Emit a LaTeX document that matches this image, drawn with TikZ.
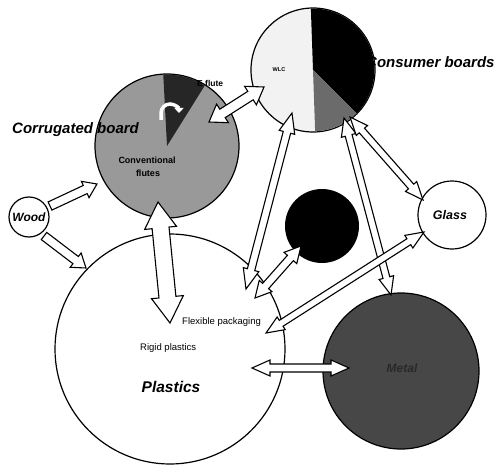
\documentclass[tikz,border=0pt]{standalone}
\usepackage{fontspec}
\setmainfont{Liberation Sans}
\usetikzlibrary{calc,arrows.meta}
\tikzset{
  ring/.style={circle, draw=black, line width=1.2pt, inner sep=0pt, outer sep=0pt},
  blk/.style={draw=black, fill=white, line width=1.1pt, line join=miter},
  title/.style={font=\bfseries\itshape\fontsize{15}{15}\selectfont, inner sep=0pt},
  small/.style={font=\fontsize{9.5}{10}\selectfont, inner sep=0pt},
  lab/.style={font=\bfseries\fontsize{9}{10}\selectfont, inner sep=0pt},
}
% single block arrow: #1 tail, #2 tip, #3 half shaft, #4 half head, #5 head length
\newcommand\blkone[5]{\filldraw[blk] ($(#1)!#3!90:(#2)$) -- ($(#2)!#5!(#1)!#3!-90:(#1)$) -- ($(#2)!#5!(#1)!#4!-90:(#1)$) -- (#2) -- ($(#2)!#5!(#1)!#4!90:(#1)$) -- ($(#2)!#5!(#1)!#3!90:(#1)$) -- ($(#1)!#3!-90:(#2)$) -- cycle;}
% double block arrow
\newcommand\blktwo[5]{\filldraw[blk] (#1) -- ($(#1)!#5!(#2)!#4!-90:(#2)$) -- ($(#1)!#5!(#2)!#3!-90:(#2)$) -- ($(#2)!#5!(#1)!#3!90:(#1)$) -- ($(#2)!#5!(#1)!#4!90:(#1)$) -- (#2) -- ($(#2)!#5!(#1)!#4!-90:(#1)$) -- ($(#2)!#5!(#1)!#3!-90:(#1)$) -- ($(#1)!#5!(#2)!#3!90:(#2)$) -- ($(#1)!#5!(#2)!#4!90:(#2)$) -- cycle;}
\begin{document}
\begin{tikzpicture}[x=1pt,y=-1pt]
\useasboundingbox (0,0) rectangle (497,465);
% circles
\node[ring, fill=white, minimum size=230pt] (plastics) at (170,349) {};
\node[ring, fill=black!40, minimum size=144pt] (corr) at (167,146) {};
\fill[black!85] (corr.center) -- ++(-93:71.4) arc (-93:-58:71.4) -- cycle;
\node[ring, fill=black!5, minimum size=124pt] (cons) at (313,70) {};
\fill[black] (cons.center) -- ++(-92:61.4) arc (-92:45:61.4) -- cycle;
\fill[black!58] (cons.center) -- ++(45:61.4) arc (45:88:61.4) -- cycle;
\node[ring, fill=white, minimum size=40pt] (wood) at (29,217) {};
\node[ring, fill=white, minimum size=68pt] (glass) at (452,215) {};
\node[circle, fill=black, minimum size=74pt, inner sep=0pt] (blackc) at (322,226) {};
\node[ring, fill=black!72, minimum size=156pt] (metal) at (401,371) {};
% curved arrow in the flute wedge
\draw[white, line width=3.5pt, -{Triangle[length=5pt,width=9pt]}] (161,120) -- (161,113) arc (180:360:9);
% arrow end points
\coordinate (w1) at (50,206);   \coordinate (c1) at (97,184);
\coordinate (w2) at (44,236);   \coordinate (p1) at (86,268);
\coordinate (c2) at (158,202);  \coordinate (p2) at (170,323);
\coordinate (c3) at (209,122);  \coordinate (k1) at (264,87);
\coordinate (k2) at (292,113);  \coordinate (p3) at (246,289);
\coordinate (k3) at (344,118);  \coordinate (m1) at (391,295);
\coordinate (k4) at (350,117);  \coordinate (g1) at (423,200);
\coordinate (g2) at (424,232);  \coordinate (p4) at (266,333);
\coordinate (b1) at (301,246);  \coordinate (p5) at (255,298);
\coordinate (m2) at (349,368);  \coordinate (p6) at (252,368);
% connectors
\blkone{w1}{c1}{4.5pt}{9pt}{13pt}
\blkone{w2}{p1}{4.5pt}{9pt}{13pt}
\blktwo{c2}{p2}{8.5pt}{16pt}{26pt}
\blktwo{c3}{k1}{5pt}{11pt}{16pt}
\blktwo{k2}{p3}{3.8pt}{8pt}{20pt}
\blktwo{k3}{m1}{3.5pt}{7.5pt}{18pt}
\blktwo{k4}{g1}{3.5pt}{7.5pt}{18pt}
\blktwo{g2}{p4}{3.5pt}{7.5pt}{18pt}
\blktwo{b1}{p5}{4pt}{8.5pt}{16pt}
\blktwo{m2}{p6}{4pt}{8pt}{18pt}
% texts
\node[title, anchor=west] (tcorr) at (12,130) {Corrugated board};
\node[title, anchor=west] (tcons) at (366,62) {Consumer boards};
\node[font=\bfseries\itshape\fontsize{15.5}{16}\selectfont, inner sep=0pt] (tplast) at (171,387) {Plastics};
\node[font=\bfseries\itshape\fontsize{12}{12}\selectfont, inner sep=0pt] (twood) at (wood) {Wood};
\node[font=\bfseries\itshape\fontsize{12.5}{13}\selectfont, inner sep=0pt] (tglass) at (450,215) {Glass};
\node[small, anchor=west] (tflex) at (182,322) {Flexible packaging};
\node[small, anchor=west] (trigid) at (140,348) {Rigid plastics};
\node[lab] (tconv) at (147,160) {Conventional};
\node[lab] (tflutes) at (148,173) {flutes};
\node[font=\bfseries\fontsize{5.5}{6}\selectfont, inner sep=0pt] (twlc) at (279,70) {WLC};
\node[font=\bfseries\fontsize{8.5}{9}\selectfont, inner sep=0pt, anchor=west] (tef) at (197,83) {E flute};
\node[font=\bfseries\itshape\fontsize{12}{12}\selectfont, inner sep=0pt, text=black!84] (tmetal) at (402,368) {Metal};
\end{tikzpicture}
\end{document}
